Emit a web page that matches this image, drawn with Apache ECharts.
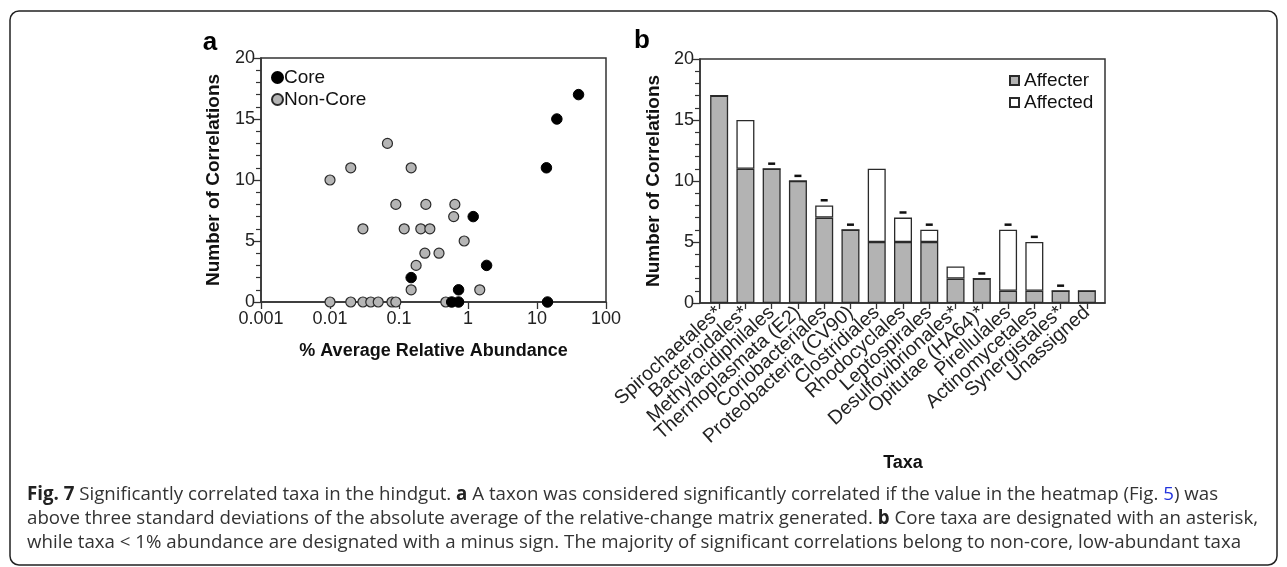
<!DOCTYPE html>
<html>
<head>
<meta charset="utf-8">
<script src="https://cdn.jsdelivr.net/npm/echarts@6/dist/echarts.min.js"></script>
<style>
html,body{margin:0;padding:0;background:#fff;}
#chart{width:1287px;height:567px;}
</style>
</head>
<body>
<div id="chart"></div>
<script>
// ---- Panel a data ----
const coreX = [40, 19.4, 13.7, 1.19, 1.86, 0.15, 0.73, 0.58, 0.73, 14.2];
const coreY = [17, 15, 11, 7, 3, 2, 1, 0, 0, 0];
const nonCoreX = [0.01, 0.02, 0.068, 0.15, 0.09, 0.245, 0.645, 0.62, 0.03, 0.119, 0.207, 0.28, 0.88, 0.237, 0.38, 0.177, 0.15, 1.48, 0.01, 0.02, 0.03, 0.039, 0.05, 0.079, 0.09, 0.477];
const nonCoreY = [10, 11, 13, 11, 8, 8, 8, 7, 6, 6, 6, 6, 5, 4, 4, 3, 1, 1, 0, 0, 0, 0, 0, 0, 0, 0];
const xTickLabelsA = ['0.001', '0.01', '0.1', '1', '10', '100'];
const yTicks = [0, 5, 10, 15, 20];

// ---- Panel b data ----
const taxa = ['Spirochaetales*', 'Bacteroidales*', 'Methylacidiphilales', 'Thermoplasmata (E2)', 'Coriobacteriales', 'Proteobacteria (CV90)', 'Clostridiales', 'Rhodocyclales', 'Leptospirales', 'Desulfovibrionales*', 'Opitutae (HA64)*', 'Pirellulales', 'Actinomycetales', 'Synergistales*', 'Unassigned'];
const affecter = [17, 11, 11, 10, 7, 6, 5, 5, 5, 2, 2, 1, 1, 1, 1];
const affected = [0, 4, 0, 0, 1, 0, 6, 2, 1, 1, 0, 5, 4, 0, 0];
const minusFlag = [0, 0, 1, 1, 1, 1, 0, 1, 1, 0, 1, 1, 1, 1, 0];

const FONT = '"Liberation Sans", Arial, Helvetica, sans-serif';
const AX = '#333';

const coreData = coreX.map((x, i) => [x, coreY[i]]);
const nonCoreData = nonCoreX.map((x, i) => [x, nonCoreY[i]]);
const minusData = [];
taxa.forEach((t, i) => { if (minusFlag[i]) minusData.push([i, affecter[i] + affected[i] + 0.42]); });

function yAxisCommon(gridIndex, show) {
  return {
    gridIndex, type: 'value', min: 0, max: 20, interval: 5, show: show,
    axisLine: { show: true, lineStyle: { color: AX, width: 1.5 } },
    axisTick: { show: true, inside: false, length: 8, lineStyle: { color: AX, width: 1.3 } },
    minorTick: { show: true, splitNumber: 5, length: 5, lineStyle: { color: AX, width: 1.2 } },
    axisLabel: { show: true, fontFamily: FONT, fontSize: 18, color: '#222', margin: 6,
      formatter: v => (yTicks.indexOf(v) >= 0 ? String(v) : '') },
    splitLine: { show: false }
  };
}

const chart = echarts.init(document.getElementById('chart'), null, { renderer: 'canvas' });
const option = {
  animation: false,
  backgroundColor: '#fff',
  grid: [
    { left: 261, top: 58, width: 345, height: 244, show: true, borderColor: AX, borderWidth: 1.5, containLabel: false },
    { left: 700, top: 59, width: 405, height: 244, show: true, borderColor: AX, borderWidth: 1.5, containLabel: false },
    { left: 706, top: 59, width: 394, height: 244, containLabel: false }
  ],
  xAxis: [
    { gridIndex: 0, type: 'log', logBase: 10, min: 0.001, max: 100,
      name: '% Average Relative Abundance', nameLocation: 'middle', nameGap: 40,
      nameTextStyle: { fontFamily: FONT, fontSize: 18, fontWeight: 'bold', color: '#111' },
      axisLine: { show: true, onZero: false, lineStyle: { color: AX, width: 1.5 } },
      axisTick: { show: true, length: 7, lineStyle: { color: AX, width: 1.3 } },
      minorTick: { show: false },
      axisLabel: { fontFamily: FONT, fontSize: 18, color: '#222', margin: 8,
        formatter: v => { const k = Math.round(Math.log10(v)) + 3; return xTickLabelsA[k] !== undefined ? xTickLabelsA[k] : ''; } },
      splitLine: { show: false } },
    { gridIndex: 1, type: 'value', min: 0, max: 1, show: true,
      axisLine: { show: true, lineStyle: { color: AX, width: 1.5 } },
      axisTick: { show: false }, axisLabel: { show: false }, splitLine: { show: false } },
    { gridIndex: 2, type: 'category', data: taxa, boundaryGap: true,
      name: 'Taxa', nameLocation: 'middle', nameGap: 151,
      nameTextStyle: { fontFamily: FONT, fontSize: 18, fontWeight: 'bold', color: '#111' },
      axisLine: { show: false },
      axisTick: { show: true, alignWithLabel: true, length: 6, lineStyle: { color: AX, width: 1.3 } },
      axisLabel: { interval: 0, rotate: 42, fontFamily: FONT, fontSize: 19.5, color: '#222', margin: 7 },
      splitLine: { show: false } }
  ],
  yAxis: [
    Object.assign(yAxisCommon(0, true), {
      name: 'Number of Correlations', nameLocation: 'middle', nameGap: 38,
      nameTextStyle: { fontFamily: FONT, fontSize: 19, fontWeight: 'bold', color: '#111' } }),
    Object.assign(yAxisCommon(1, true), {
      name: 'Number of Correlations', nameLocation: 'middle', nameGap: 37,
      nameTextStyle: { fontFamily: FONT, fontSize: 19, fontWeight: 'bold', color: '#111' } }),
    { gridIndex: 2, type: 'value', min: 0, max: 20, show: false }
  ],
  legend: [
    { orient: 'vertical', left: 266, top: 63, itemGap: 3, itemWidth: 11, itemHeight: 11,
      data: ['Core', 'Non-Core'],
      textStyle: { fontFamily: FONT, fontSize: 19, color: '#111', padding: [0, 0, 0, -4] } },
    { orient: 'vertical', left: 1004, top: 66, itemGap: 3, itemWidth: 9, itemHeight: 9,
      data: ['Affecter', 'Affected'], icon: 'rect',
      textStyle: { fontFamily: FONT, fontSize: 19, color: '#111' } }
  ],
  series: [
    { name: 'Non-Core', type: 'scatter', xAxisIndex: 0, yAxisIndex: 0, data: nonCoreData,
      symbol: 'circle', symbolSize: 10, clip: false,
      itemStyle: { color: '#b5b5b5', borderColor: '#2a2a2a', borderWidth: 1.2, opacity: 1 } },
    { name: 'Core', type: 'scatter', xAxisIndex: 0, yAxisIndex: 0, data: coreData,
      symbol: 'circle', symbolSize: 10.5, clip: false,
      itemStyle: { color: '#000', borderColor: '#000', borderWidth: 1, opacity: 1 } },
    { name: 'Affecter', type: 'bar', xAxisIndex: 2, yAxisIndex: 2, stack: 'b', data: affecter,
      barWidth: 18, itemStyle: { color: '#b3b3b3', borderColor: '#2a2a2a', borderWidth: 1.3 } },
    { name: 'Affected', type: 'bar', xAxisIndex: 2, yAxisIndex: 2, stack: 'b', data: affected,
      barWidth: 18, itemStyle: { color: '#ffffff', borderColor: '#2a2a2a', borderWidth: 1.3 } },
    { name: 'minus', type: 'scatter', xAxisIndex: 2, yAxisIndex: 2, data: minusData,
      symbol: 'rect', symbolSize: [7, 2.5], clip: false, silent: true,
      itemStyle: { color: '#111', opacity: 1 } }
  ],
  graphic: [
    { type: 'rect', shape: { x: 10, y: 11, width: 1267, height: 554, r: 9 }, silent: true,
      style: { fill: 'none', stroke: '#222', lineWidth: 1.5 } },
    { type: 'text', x: 210, y: 43, silent: true,
      style: { text: 'a', font: 'bold 26px ' + FONT, fill: '#000', textAlign: 'center', textVerticalAlign: 'middle' } },
    { type: 'text', x: 642, y: 41, silent: true,
      style: { text: 'b', font: 'bold 26px ' + FONT, fill: '#000', textAlign: 'center', textVerticalAlign: 'middle' } },
    { type: 'text', x: 27, y: 483, silent: true,
      style: {
        text: '{b|Fig. 7} Significantly correlated taxa in the hindgut. {b|a} A taxon was considered significantly correlated if the value in the heatmap (Fig. {l|5}) was\nabove three standard deviations of the absolute average of the relative-change matrix generated. {b|b} Core taxa are designated with an asterisk,\nwhile taxa < 1% abundance are designated with a minus sign. The majority of significant correlations belong to non-core, low-abundant taxa',
        font: '18.7px "Open Sans", sans-serif', fill: '#333', textVerticalAlign: 'top', lineHeight: 24,
        rich: {
          b: { fontFamily: '"Open Sans", sans-serif', fontSize: 18.7, fontWeight: 'bold', fill: '#222', lineHeight: 24 },
          l: { fontFamily: '"Open Sans", sans-serif', fontSize: 18.7, fill: '#2233dd', lineHeight: 24 }
        }
      } }
  ]
};
chart.setOption(option);
</script>
</body>
</html>
